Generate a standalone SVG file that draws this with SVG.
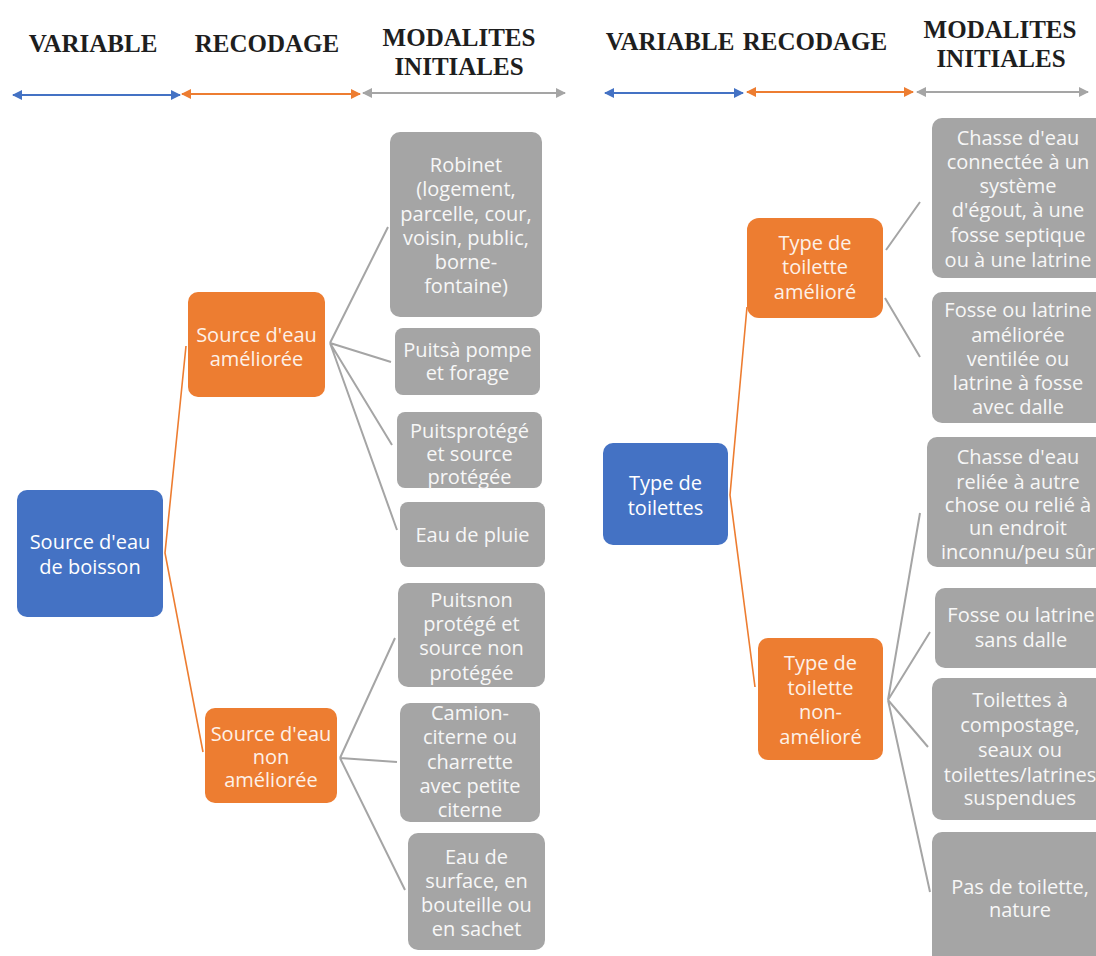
<svg xmlns="http://www.w3.org/2000/svg" width="1096" height="956" viewBox="0 0 1096 956">
<defs>
<style>
.hd{font-family:"Liberation Serif","Times New Roman",serif;font-weight:bold;font-size:25px;fill:#1e1e1e;text-anchor:middle}
.t{font-family:"Open Sans","Noto Sans",sans-serif;font-size:20px;text-anchor:middle}
.tb{fill:#ffffff}
.to{fill:#fdf1e8}
.tg{fill:#f7f7f7}
.blue{fill:#4472C4}
.orange{fill:#ED7D31}
.gray{fill:#A5A5A5}
.lg{stroke:#A5A5A5;stroke-width:2;fill:none}
.lo{stroke:#ED7D31;stroke-width:1.6;fill:none}
</style>
<marker id="ab" viewBox="0 0 10 10" refX="9" refY="5" markerWidth="11" markerHeight="10" markerUnits="userSpaceOnUse" orient="auto-start-reverse"><path d="M0,0L10,5L0,10z" fill="#4472C4"/></marker>
<marker id="ao" viewBox="0 0 10 10" refX="9" refY="5" markerWidth="11" markerHeight="10" markerUnits="userSpaceOnUse" orient="auto-start-reverse"><path d="M0,0L10,5L0,10z" fill="#ED7D31"/></marker>
<marker id="ag" viewBox="0 0 10 10" refX="9" refY="5" markerWidth="11" markerHeight="10" markerUnits="userSpaceOnUse" orient="auto-start-reverse"><path d="M0,0L10,5L0,10z" fill="#A5A5A5"/></marker>
</defs>
<rect width="1096" height="956" fill="#ffffff"/>

<g id="headers">
<text class="hd" x="93" y="52">VARIABLE</text>
<text class="hd" x="267" y="52">RECODAGE</text>
<text class="hd" x="459" y="46">MODALITES</text>
<text class="hd" x="459" y="75">INITIALES</text>
<text class="hd" x="670" y="50">VARIABLE</text>
<text class="hd" x="815" y="50">RECODAGE</text>
<text class="hd" x="1000" y="38">MODALITES</text>
<text class="hd" x="1001" y="67">INITIALES</text>
</g>

<g id="header-arrows">
<line x1="13" y1="95" x2="180" y2="95" stroke="#4472C4" stroke-width="2.2" marker-start="url(#ab)" marker-end="url(#ab)"/>
<line x1="182" y1="94" x2="360" y2="94" stroke="#ED7D31" stroke-width="2.2" marker-start="url(#ao)" marker-end="url(#ao)"/>
<line x1="363" y1="93" x2="565" y2="93" stroke="#A5A5A5" stroke-width="2.2" marker-start="url(#ag)" marker-end="url(#ag)"/>
<line x1="605" y1="93" x2="743" y2="93" stroke="#4472C4" stroke-width="2.2" marker-start="url(#ab)" marker-end="url(#ab)"/>
<line x1="747" y1="92" x2="913" y2="92" stroke="#ED7D31" stroke-width="2.2" marker-start="url(#ao)" marker-end="url(#ao)"/>
<line x1="917" y1="92" x2="1088" y2="92" stroke="#A5A5A5" stroke-width="2.2" marker-start="url(#ag)" marker-end="url(#ag)"/>
</g>

<g id="connectors">
<path class="lo" d="M186,346 L165,553 L203,752"/>
<path class="lg" d="M330,343 L388,227 M330,343 L391,362 M330,343 L392,445 M330,343 L397,530"/>
<path class="lg" d="M340,758 L395,638 M340,758 L397,762 M340,758 L405,890"/>
<path class="lo" d="M747,307 L730,495 L755,687"/>
<path class="lg" d="M886,250 L920,202 M885,298 L920,357"/>
<path class="lg" d="M888,700 L920,513 M888,700 L930,632 M888,700 L928,747 M888,700 L930,892"/>
</g>

<g id="n-source-boisson">
<rect class="blue" x="17" y="490" width="146" height="127" rx="10"/>
<text class="t tb" x="90" y="549">Source d'eau</text>
<text class="t tb" x="90" y="574">de boisson</text>
</g>
<g id="n-source-amelioree">
<rect class="orange" x="188" y="292" width="137" height="105" rx="10"/>
<text class="t to" x="256.5" y="342">Source d'eau</text>
<text class="t to" x="256.5" y="366">améliorée</text>
</g>
<g id="n-source-non-amelioree">
<rect class="orange" x="205" y="708" width="132" height="95" rx="10"/>
<text class="t to" x="271" y="741">Source d'eau</text>
<text class="t to" x="271" y="764">non</text>
<text class="t to" x="271" y="787">améliorée</text>
</g>
<g id="n-robinet">
<rect class="gray" x="390" y="132" width="152" height="185" rx="10"/>
<text class="t tg" x="466" y="172">Robinet</text>
<text class="t tg" x="466" y="196">(logement,</text>
<text class="t tg" x="466" y="221">parcelle, cour,</text>
<text class="t tg" x="466" y="245">voisin, public,</text>
<text class="t tg" x="466" y="269">borne-</text>
<text class="t tg" x="466" y="293">fontaine)</text>
</g>
<g id="n-pompe">
<rect class="gray" x="395" y="328" width="145" height="67" rx="8"/>
<text class="t tg" x="467.5" y="357">Puitsà pompe</text>
<text class="t tg" x="467.5" y="380">et forage</text>
</g>
<g id="n-protege">
<rect class="gray" x="397" y="412" width="145" height="76" rx="8"/>
<text class="t tg" x="469.5" y="438">Puitsprotégé</text>
<text class="t tg" x="469.5" y="461">et source</text>
<text class="t tg" x="469.5" y="484">protégée</text>
</g>
<g id="n-pluie">
<rect class="gray" x="400" y="502" width="145" height="65" rx="8"/>
<text class="t tg" x="472.5" y="542">Eau de pluie</text>
</g>
<g id="n-non-protege">
<rect class="gray" x="398" y="583" width="147" height="104" rx="10"/>
<text class="t tg" x="471.5" y="607">Puitsnon</text>
<text class="t tg" x="471.5" y="631">protégé et</text>
<text class="t tg" x="471.5" y="655">source non</text>
<text class="t tg" x="471.5" y="680">protégée</text>
</g>
<g id="n-camion">
<rect class="gray" x="400" y="703" width="140" height="119" rx="10"/>
<text class="t tg" x="470" y="720">Camion-</text>
<text class="t tg" x="470" y="744">citerne ou</text>
<text class="t tg" x="470" y="769">charrette</text>
<text class="t tg" x="470" y="793">avec petite</text>
<text class="t tg" x="470" y="817">citerne</text>
</g>
<g id="n-surface">
<rect class="gray" x="408" y="833" width="137" height="117" rx="10"/>
<text class="t tg" x="476.5" y="864">Eau de</text>
<text class="t tg" x="476.5" y="888">surface, en</text>
<text class="t tg" x="476.5" y="912">bouteille ou</text>
<text class="t tg" x="476.5" y="936">en sachet</text>
</g>

<g id="n-type-toilettes">
<rect class="blue" x="603" y="443" width="125" height="102" rx="10"/>
<text class="t tb" x="665.5" y="490">Type de</text>
<text class="t tb" x="665.5" y="515">toilettes</text>
</g>
<g id="n-ameliore">
<rect class="orange" x="747" y="218" width="136" height="100" rx="12"/>
<text class="t to" x="815" y="250">Type de</text>
<text class="t to" x="815" y="274">toilette</text>
<text class="t to" x="815" y="299">amélioré</text>
</g>
<g id="n-non-ameliore">
<rect class="orange" x="758" y="638" width="125" height="122" rx="10"/>
<text class="t to" x="820.5" y="670">Type de</text>
<text class="t to" x="820.5" y="695">toilette</text>
<text class="t to" x="820.5" y="719">non-</text>
<text class="t to" x="820.5" y="744">amélioré</text>
</g>
<g id="n-chasse-egout">
<rect class="gray" x="932" y="118" width="175" height="160" rx="10"/>
<text class="t tg" x="1018" y="145">Chasse d'eau</text>
<text class="t tg" x="1018" y="169">connectée à un</text>
<text class="t tg" x="1018" y="193">système</text>
<text class="t tg" x="1018" y="217">d'égout, à une</text>
<text class="t tg" x="1018" y="242">fosse septique</text>
<text class="t tg" x="1018" y="267">ou à une latrine</text>
</g>
<g id="n-fosse-amelioree">
<rect class="gray" x="932" y="292" width="175" height="131" rx="10"/>
<text class="t tg" x="1018" y="317">Fosse ou latrine</text>
<text class="t tg" x="1018" y="342">améliorée</text>
<text class="t tg" x="1018" y="366">ventilée ou</text>
<text class="t tg" x="1018" y="390">latrine à fosse</text>
<text class="t tg" x="1018" y="414">avec dalle</text>
</g>
<g id="n-chasse-autre">
<rect class="gray" x="927" y="437" width="180" height="130" rx="10"/>
<text class="t tg" x="1018" y="464">Chasse d'eau</text>
<text class="t tg" x="1018" y="489">reliée à autre</text>
<text class="t tg" x="1018" y="512">chose ou relié à</text>
<text class="t tg" x="1018" y="535">un endroit</text>
<text class="t tg" x="1018" y="559">inconnu/peu sûr</text>
</g>
<g id="n-sans-dalle">
<rect class="gray" x="935" y="588" width="175" height="80" rx="10"/>
<text class="t tg" x="1021" y="622">Fosse ou latrine</text>
<text class="t tg" x="1021" y="647">sans dalle</text>
</g>
<g id="n-compostage">
<rect class="gray" x="932" y="678" width="175" height="142" rx="10"/>
<text class="t tg" x="1020" y="707">Toilettes à</text>
<text class="t tg" x="1020" y="732">compostage,</text>
<text class="t tg" x="1020" y="757">seaux ou</text>
<text class="t tg" x="1020" y="782">toilettes/latrines</text>
<text class="t tg" x="1020" y="805">suspendues</text>
</g>
<g id="n-pas-toilette">
<rect class="gray" x="932" y="832" width="175" height="140" rx="10"/>
<text class="t tg" x="1020" y="894">Pas de toilette,</text>
<text class="t tg" x="1020" y="917">nature</text>
</g>
</svg>
